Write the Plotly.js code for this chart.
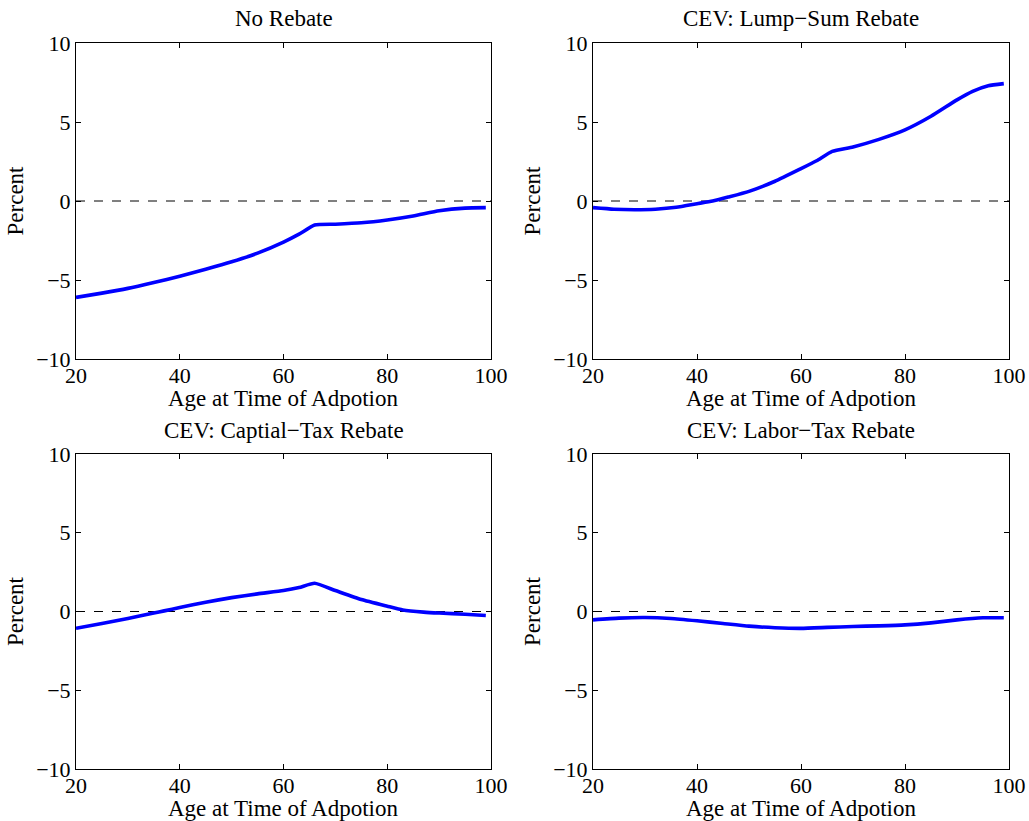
<!DOCTYPE html>
<html>
<head>
<meta charset="utf-8">
<script src="https://cdn.plot.ly/plotly-3.0.1.min.js"></script>
<style>html,body{margin:0;padding:0;background:#fff;}#chart{width:1029px;height:821px;}</style>
</head>
<body>
<div id="chart"></div>
<script>
// Data
const ageNoRebate = [20, 25, 30, 35, 40, 45, 50, 55, 60, 63, 66, 70, 75, 80, 85, 90, 95, 99];
const noRebate    = [-6.1, -5.83, -5.53, -5.16, -4.76, -4.32, -3.85, -3.3, -2.6, -2.1, -1.52, -1.47, -1.38, -1.2, -0.95, -0.62, -0.45, -0.42];

const ageLump = [20, 24, 28, 32, 36, 40, 43, 46, 50, 55, 60, 63, 66, 70, 75, 80, 85, 90, 93, 96, 99];
const lumpSum = [-0.42, -0.52, -0.55, -0.52, -0.4, -0.17, 0.0, 0.25, 0.61, 1.25, 2.05, 2.55, 3.14, 3.42, 3.9, 4.5, 5.36, 6.4, 6.94, 7.3, 7.43];

const ageCap = [20, 25, 30, 35, 37, 40, 45, 50, 55, 60, 63, 66, 70, 75, 80, 83, 87, 90, 95, 99];
const capitalTax = [-1.07, -0.76, -0.44, -0.1, 0.04, 0.25, 0.59, 0.88, 1.12, 1.33, 1.52, 1.79, 1.33, 0.76, 0.34, 0.1, -0.04, -0.1, -0.17, -0.25];

const ageLab = [20, 25, 30, 35, 40, 45, 50, 55, 60, 65, 70, 75, 80, 85, 90, 95, 99];
const laborTax = [-0.53, -0.42, -0.38, -0.44, -0.59, -0.76, -0.93, -1.03, -1.07, -1.01, -0.95, -0.91, -0.85, -0.72, -0.53, -0.4, -0.4];

const panelTitles = ["No Rebate", "CEV: Lump\u2212Sum Rebate", "CEV: Captial\u2212Tax Rebate", "CEV: Labor\u2212Tax Rebate"];
const xTickVals = [20, 40, 60, 80, 100];
const yTickVals = [-10, -5, 0, 5, 10];
const xLabel = "Age at Time of Adpotion";
const yLabel = "Percent";

const FONT = "Liberation Serif, Times New Roman, serif";
const FS = 23;
const TFS = 22;
const W = 1029, H = 821;
const xDom = [[76 / W, 491 / W], [593 / W, 1009 / W]];
const yDom = [[(H - 359) / H, (H - 43) / H], [(H - 769) / H, (H - 454) / H]];

const series = [[ageNoRebate, noRebate], [ageLump, lumpSum], [ageCap, capitalTax], [ageLab, laborTax]];
const traces = [];
const layout = {
  width: W, height: H,
  margin: {l: 0, r: 0, t: 0, b: 0},
  paper_bgcolor: "#fff", plot_bgcolor: "#fff",
  showlegend: false,
  font: {family: FONT, size: FS, color: "#000"},
  annotations: [], shapes: []
};

series.forEach((s, i) => {
  const n = i + 1;
  const xa = n === 1 ? "x" : "x" + n;
  const ya = n === 1 ? "y" : "y" + n;
  traces.push({
    x: s[0], y: s[1], xaxis: xa, yaxis: ya,
    type: "scatter", mode: "lines",
    line: {color: "#0000ff", width: 3.6, shape: "spline", smoothing: 0.5},
    hoverinfo: "skip"
  });
  const col = i % 2, row = Math.floor(i / 2);
  const axCommon = {
    showline: true, linecolor: "#000", linewidth: 1, mirror: "ticks",
    ticks: "inside", ticklen: 5, tickcolor: "#000", tickwidth: 1,
    showgrid: false, zeroline: false, fixedrange: true,
    tickfont: {family: FONT, size: TFS, color: "#000"}
  };
  layout[(n === 1 ? "xaxis" : "xaxis" + n)] = Object.assign({}, axCommon, {
    domain: xDom[col], anchor: ya, range: [20, 100],
    tickvals: xTickVals, ticktext: xTickVals.map(String),
    ticklabelstandoff: -3
  });
  layout[(n === 1 ? "yaxis" : "yaxis" + n)] = Object.assign({}, axCommon, {
    domain: yDom[row], anchor: xa, range: [-10, 10],
    tickvals: yTickVals,
    title: {text: yLabel, font: {family: FONT, size: FS, color: "#000"}, standoff: 6}
  });
  const xc = (xDom[col][0] + xDom[col][1]) / 2;
  layout.annotations.push({
    text: panelTitles[i], xref: "paper", yref: "paper",
    x: xc, y: yDom[row][1],
    yshift: 24, xanchor: "center", yanchor: "middle", showarrow: false,
    font: {family: FONT, size: FS, color: "#000"}
  });
  layout.annotations.push({
    text: xLabel, xref: "paper", yref: "paper",
    x: xc, y: yDom[row][0],
    yshift: -39, xanchor: "center", yanchor: "middle", showarrow: false,
    font: {family: FONT, size: FS, color: "#000"}
  });
  layout.shapes.push({
    type: "line", xref: xa + " domain", yref: ya,
    x0: 0, x1: 1, y0: 0, y1: 0,
    line: {color: "#000", width: 1, dash: "dash"}, layer: "below"
  });
});

Plotly.newPlot("chart", traces, layout, {staticPlot: true, displayModeBar: false});
</script>
</body>
</html>
